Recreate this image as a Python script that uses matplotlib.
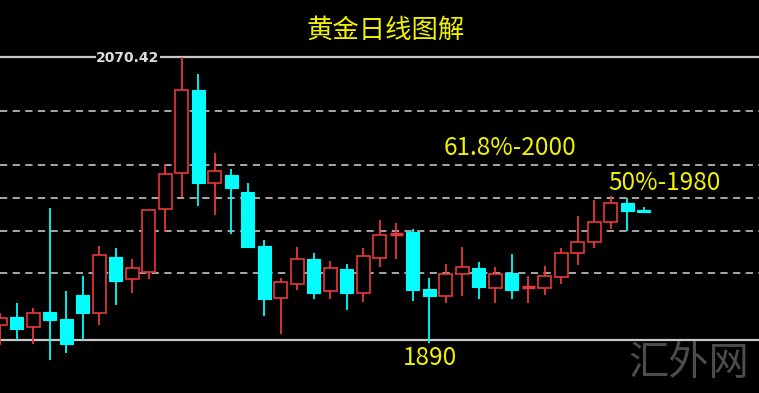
import numpy as np
import matplotlib
matplotlib.use("Agg")
from matplotlib import pyplot as plt

plt.rcParams['font.family'] = ['Noto Sans CJK SC', 'DejaVu Sans']

# 日线 OHLC
opens = [1899.6, 1904.7, 1898.3, 1907.9, 1903.4, 1918.7, 1907.3, 1943.0, 1928.9, 1933.4,
         1973.5, 1996.5, 2049.4, 1990.1, 1995.2, 1984.4, 1950.0, 1916.8, 1925.7, 1941.7,
         1921.3, 1935.3, 1920.0, 1942.3, 1957.6, 1958.9, 1922.6, 1918.1, 1932.1, 1935.9,
         1923.2, 1932.8, 1923.8, 1923.2, 1930.2, 1945.5, 1952.5, 1965.3, 1977.4, 1972.9]
highs = [1907.3, 1913.6, 1910.5, 1974.2, 1921.3, 1930.8, 1950.0, 1948.7, 1941.7, 1972.9,
         2002.2, 2070.42, 2059.6, 2009.2, 1999.0, 1990.1, 1953.8, 1929.6, 1949.3, 1945.5,
         1940.4, 1938.5, 1948.7, 1966.5, 1964.6, 1960.8, 1929.6, 1938.5, 1949.3, 1939.8,
         1936.6, 1944.9, 1930.8, 1937.2, 1948.7, 1969.1, 1979.3, 1981.8, 1980.6, 1974.8]
lows = [1886.9, 1890.1, 1887.5, 1877.3, 1881.8, 1890.1, 1899.6, 1912.4, 1920.0, 1928.9,
        1958.9, 1981.2, 1975.5, 1969.7, 1957.6, 1949.3, 1905.4, 1893.9, 1921.9, 1916.2,
        1916.2, 1909.2, 1914.3, 1936.6, 1941.7, 1914.9, 1888.1, 1913.6, 1918.1, 1916.2,
        1913.6, 1916.2, 1913.6, 1918.7, 1925.7, 1937.9, 1948.7, 1960.8, 1959.5, 1971.6]
closes = [1904.1, 1897.1, 1907.3, 1902.8, 1887.5, 1907.3, 1944.2, 1927.7, 1935.9, 1972.9,
          1995.9, 2049.4, 1990.1, 1997.8, 1986.9, 1949.3, 1916.2, 1927.0, 1941.7, 1920.0,
          1935.9, 1920.0, 1943.6, 1957.0, 1957.6, 1921.9, 1918.1, 1932.1, 1936.6, 1923.8,
          1932.1, 1921.9, 1923.8, 1930.8, 1945.5, 1952.5, 1965.3, 1977.4, 1972.3, 1971.6]

solid_levels = [2070.42, 1890.1]
dashed_levels = [2036.0, 2001.6, 1980.6, 1959.5, 1932.8]

up_color = '#e8383a'
down_color = '#00ffff'
line_gray = '#b4b4b4'
yellow = '#f2f200'

fig = plt.figure(figsize=(7.59, 3.93), dpi=100, facecolor='black')
ax = fig.add_axes([0, 0, 1, 1])
ax.set_facecolor('black')
ax.set_xlim(-0.02, 46.0)
ax.set_ylim(1856.27, 2106.75)
ax.axis('off')

# 水平线
for lv in solid_levels:
    ax.axhline(lv, color='#c8c8c8', lw=1.6, zorder=1)
for lv in dashed_levels:
    ax.axhline(lv, color=line_gray, lw=1.3, ls=(0, (4, 3)), zorder=1)

# K线
x = np.arange(len(opens))
o = np.array(opens)
h = np.array(highs)
l = np.array(lows)
c = np.array(closes)
w = 0.79
for i in range(len(x)):
    if c[i] < o[i]:
        col = down_color
        ax.vlines(x[i], l[i], h[i], color=col, lw=1.3, zorder=2)
        ax.bar(x[i], o[i] - c[i], bottom=c[i], width=w, color=col, edgecolor=col,
               lw=0.8, zorder=3)
    elif c[i] > o[i]:
        col = up_color
        ax.vlines(x[i], l[i], h[i], color=col, lw=1.3, zorder=2)
        ax.bar(x[i], c[i] - o[i], bottom=o[i], width=w, facecolor='black',
               edgecolor=col, lw=1.2, zorder=3)
    else:
        col = up_color
        ax.vlines(x[i], l[i], h[i], color=col, lw=1.3, zorder=2)
        ax.hlines(o[i], x[i] - w / 2, x[i] + w / 2, color=col, lw=2.5, zorder=3)

# 文字
fig.text(386 / 759, 1 - 30 / 393, '黄金日线图解', color=yellow, fontsize=19,
         ha='center', va='center')
fig.text(510 / 759, 1 - 148 / 393, '61.8%-2000', color=yellow, fontsize=17.5,
         ha='center', va='center')
fig.text(665 / 759, 1 - 183 / 393, '50%-1980', color=yellow, fontsize=17.5,
         ha='center', va='center')
fig.text(430 / 759, 1 - 358 / 393, '1890', color=yellow, fontsize=17.5,
         ha='center', va='center')
fig.text(128 / 759, 1 - 58 / 393, '2070.42', color='#dcdcdc', fontsize=10,
         fontweight='bold', ha='center', va='center', family='DejaVu Sans',
         bbox=dict(facecolor='black', edgecolor='none', pad=0.5))
fig.text(689 / 759, 1 - 363 / 393, '汇外网', color='#4c4c4c', fontsize=29,
         ha='center', va='center')

fig.savefig('out.png', dpi=100, facecolor='black')
